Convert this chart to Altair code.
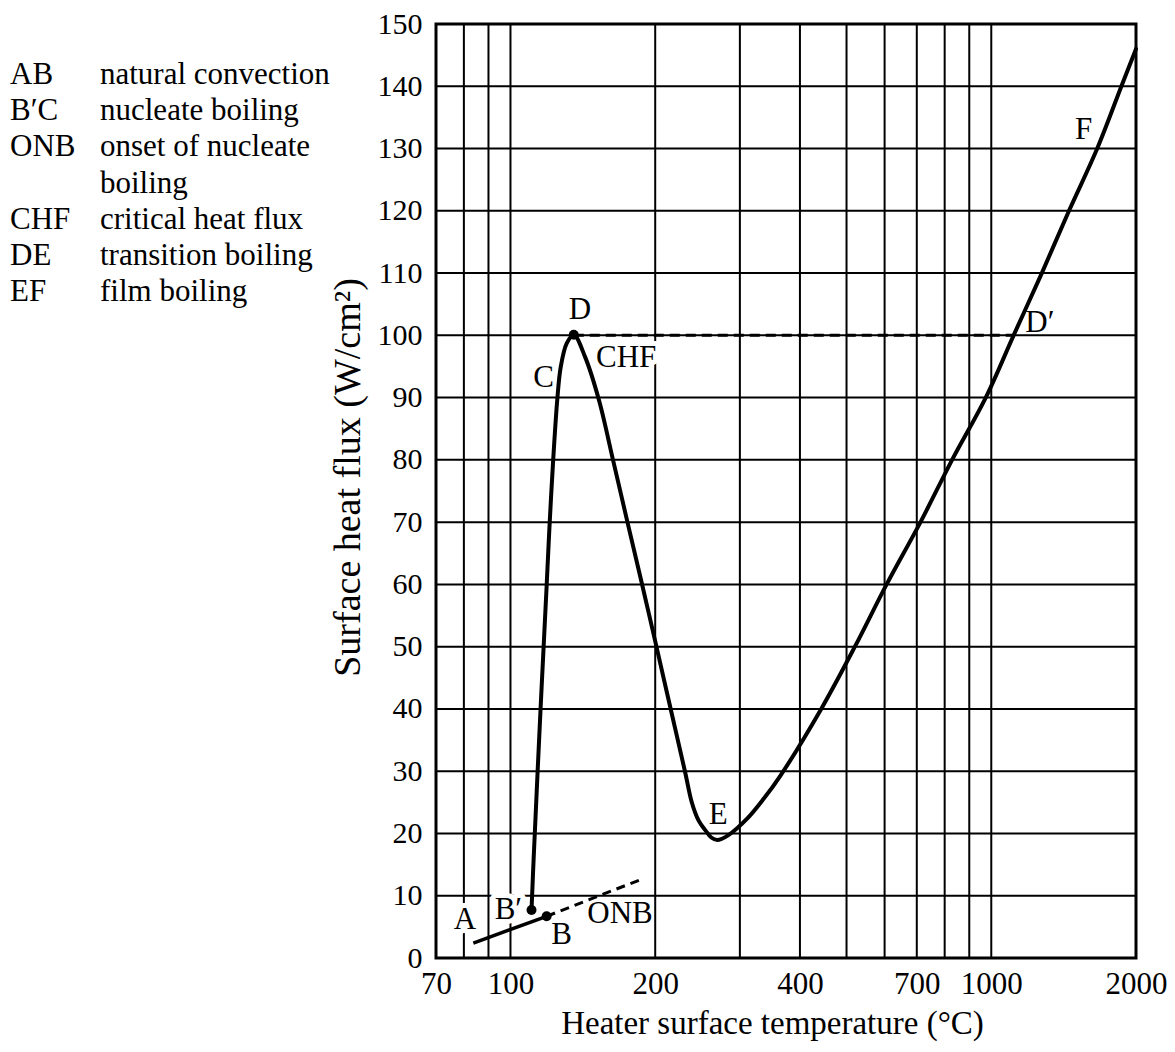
import altair as alt
import pandas as pd

FONT = "Liberation Serif"

# ---------------- data ----------------
x_grid = [70, 80, 90, 100, 200, 300, 400, 500, 600, 700, 800, 900, 1000, 2000]
x_labels = [70, 100, 200, 400, 700, 1000, 2000]
y_grid = list(range(0, 151, 10))

# boiling curve B' -> C -> D -> E -> D' -> F
curve_T = [110.6, 111.7, 115.5, 118.9, 120.6, 122.7, 125.1, 127.2, 130.9, 135.4,
           143.0, 152.9, 163.4, 175.6, 188.2, 201.2, 215.5, 230.9, 238.1, 246.1,
           254.4, 261.6, 269.2, 283.5, 311.7, 336.5, 364.4, 442.9, 520.4,
           605.8, 712.5, 829.0, 974.0, 1113.0, 1274.0, 1451.0, 1661.0, 1865.0, 2000.0]
curve_q = [7.7, 15.7, 40.0, 59.7, 69.6, 80.0, 89.6, 94.9, 98.7, 100.1,
           96.5, 89.5, 80.0, 69.6, 59.7, 50.0, 39.9, 29.8, 25.1, 22.1,
           20.5, 19.35, 18.95, 19.7, 22.5, 25.6, 29.3, 40.0, 50.0,
           60.0, 70.0, 80.0, 90.0, 100.0, 110.0, 120.0, 130.0, 140.0, 146.0]

ab_T = [83.7, 118.9]
ab_q = [2.4, 6.7]
onb_T = [118.9, 185.2]
onb_q = [6.7, 12.5]
chf_T = [135.4, 1113.0]
chf_q = [100.0, 100.0]
dot_T = [110.6, 118.9, 135.4]
dot_q = [7.7, 6.7, 100.1]

lab_text = ["A", "B\u2032", "B", "ONB", "C", "D", "CHF", "E", "F", "D\u2032"]
lab_T = [80.4, 99.0, 127.8, 169.0, 117.2, 139.4, 174.0, 270.4, 1556.0, 1262.0]
lab_q = [6.1, 7.7, 3.7, 7.0, 93.2, 104.0, 96.4, 22.9, 132.9, 102.0]
halo_labels = ["A", "B\u2032", "CHF"]

legend_codes = ["AB", "B\u2032C", "ONB", "", "CHF", "DE", "EF"]
legend_desc = ["natural convection", "nucleate boiling", "onset of nucleate",
               "boiling", "critical heat flux", "transition boiling", "film boiling"]

# ---------------- tables ----------------
df_curve = pd.DataFrame({"T": curve_T, "q": curve_q, "i": range(len(curve_T))})
df_ab = pd.DataFrame({"T": ab_T, "q": ab_q, "i": range(len(ab_T))})
df_onb = pd.DataFrame({"T": onb_T, "q": onb_q, "i": range(len(onb_T))})
df_chf = pd.DataFrame({"T": chf_T, "q": chf_q, "i": range(len(chf_T))})
df_dot = pd.DataFrame({"T": dot_T, "q": dot_q})
df_lab = pd.DataFrame({"T": lab_T, "q": lab_q, "t": lab_text})
df_halo = df_lab[df_lab["t"].isin(halo_labels)]
df_xg = pd.DataFrame({"T": x_grid})
df_yg = pd.DataFrame({"q": y_grid})
df_leg = pd.DataFrame({"code": legend_codes, "desc": legend_desc,
                       "row": range(len(legend_codes))})
df_leg["ypix"] = 51 + df_leg["row"] * 36.2

# ---------------- scales / axes ----------------
xscale = alt.Scale(type="log", domain=[70, 2000], nice=False)
yscale = alt.Scale(domain=[0, 150], nice=False)

x_axis = alt.Axis(values=x_labels, format="d", grid=False, ticks=False, domain=False,
                  labelFlush=False, labelOverlap=False, labelFont=FONT, labelFontSize=31,
                  labelColor="black", labelPadding=11,
                  title="Heater surface temperature (\u00b0C)", titleFont=FONT,
                  titleFontSize=33, titleFontWeight="normal", titleColor="black",
                  titleX=336, titleY=65, titleAlign="center", titleBaseline="middle")
y_axis = alt.Axis(values=y_grid, format="d", grid=False, ticks=False, domain=False,
                  labelFont=FONT, labelFontSize=30, labelColor="black", labelPadding=14,
                  labelOverlap=False, labelFlush=False,
                  title="Surface heat flux (W/cm\u00b2)", titleFont=FONT,
                  titleFontSize=38, titleFontWeight="normal", titleColor="black",
                  titleAngle=270, titleX=-88, titleY=453, titleAlign="center",
                  titleBaseline="middle")


def X(f="T"):
    return alt.X(f, type="quantitative", scale=xscale, axis=x_axis)


def Y(f="q"):
    return alt.Y(f, type="quantitative", scale=yscale, axis=y_axis)


# ---------------- layers ----------------
vgrid = alt.Chart(df_xg).mark_rule(color="black", strokeWidth=2).encode(x=X())
hgrid = alt.Chart(df_yg).mark_rule(color="black", strokeWidth=2).encode(y=Y())

halo = alt.Chart(df_halo).mark_text(font=FONT, fontSize=31, color="white",
                                    stroke="white", strokeWidth=10, strokeJoin="round",
                                    align="center", baseline="middle").encode(
    x=X(), y=Y(), text="t:N")

labels = alt.Chart(df_lab).mark_text(font=FONT, fontSize=31, color="black",
                                     align="center", baseline="middle").encode(
    x=X(), y=Y(), text="t:N")

chf_line = alt.Chart(df_chf).mark_line(color="black", strokeWidth=3,
                                       strokeDash=[10, 6]).encode(
    x=X(), y=Y(), order="i:Q")
onb_line = alt.Chart(df_onb).mark_line(color="black", strokeWidth=3,
                                       strokeDash=[9, 6]).encode(
    x=X(), y=Y(), order="i:Q")
ab_line = alt.Chart(df_ab).mark_line(color="black", strokeWidth=3.5).encode(
    x=X(), y=Y(), order="i:Q")
curve = alt.Chart(df_curve).mark_line(color="black", strokeWidth=4,
                                      interpolate="catmull-rom",
                                      strokeCap="round", strokeJoin="round").encode(
    x=X(), y=Y(), order="i:Q")
dots = alt.Chart(df_dot).mark_point(filled=True, color="black", size=100, opacity=1).encode(
    x=X(), y=Y())

leg_codes = alt.Chart(df_leg).mark_text(font=FONT, fontSize=31, color="black",
                                        align="left", baseline="middle").encode(
    x=alt.value(-426), y=alt.Y("ypix:Q", scale=None, axis=None), text="code:N")
leg_desc = alt.Chart(df_leg).mark_text(font=FONT, fontSize=31, color="black",
                                       align="left", baseline="middle").encode(
    x=alt.value(-336), y=alt.Y("ypix:Q", scale=None, axis=None), text="desc:N")

chart = alt.layer(
    vgrid, hgrid, halo, labels, chf_line, onb_line, ab_line, curve, dots,
    leg_codes, leg_desc
).properties(
    width=700, height=934,
    autosize=alt.AutoSizeParams(type="none"),
    padding={"left": 428, "top": 16, "right": 31, "bottom": 86},
    background="white",
).configure_view(
    stroke="black", strokeWidth=3
)

chart.save("out.html", embed_options={"renderer": "svg", "actions": False})
